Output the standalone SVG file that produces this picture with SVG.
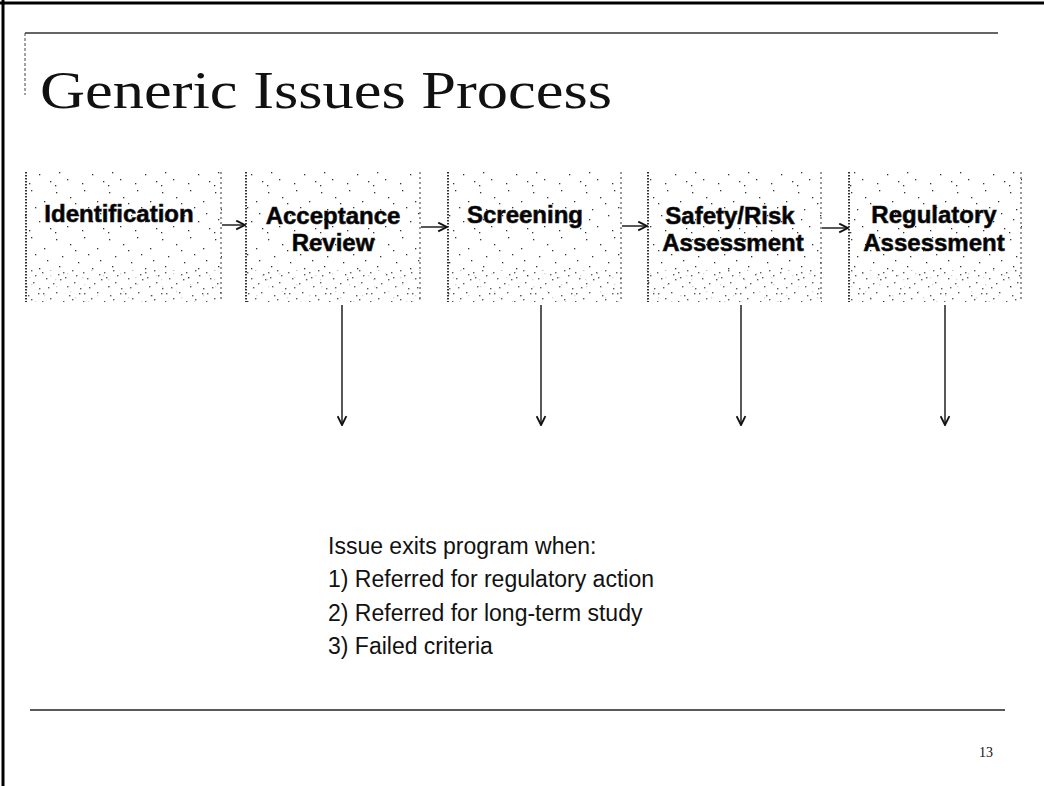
<svg xmlns="http://www.w3.org/2000/svg" width="1044" height="786" viewBox="0 0 1044 786">
<style>
.title{font-family:"Liberation Serif","Times New Roman",serif;font-size:52px;fill:#111}
.lbl{font-family:"Liberation Sans",Arial,sans-serif;font-weight:bold;font-size:24px;fill:#000;text-anchor:middle;stroke:#222;stroke-width:0.6}
.body{font-family:"Liberation Sans",Arial,sans-serif;font-size:23px;fill:#111}
.pg{font-family:"Liberation Serif","Times New Roman",serif;font-size:14px;fill:#111}
.edge{stroke:#333;stroke-width:2;stroke-dasharray:1.5 1.5}
.edgeR{stroke:#555;stroke-width:1.2;stroke-dasharray:2 3}
.conn{stroke:#111;stroke-width:1.4;fill:none}
.frame{stroke:#000;fill:none}
</style>
<defs>
<pattern id="stip" width="53" height="47" patternUnits="userSpaceOnUse">
<rect width="53" height="47" fill="#fff"/>
<g fill="#333">
<rect x="3" y="4" width="1.3" height="1.3"/><rect x="17" y="9" width="1.3" height="1.3"/><rect x="31" y="2" width="1.3" height="1.3"/>
<rect x="44" y="13" width="1.3" height="1.3"/><rect x="9" y="21" width="1.3" height="1.3"/><rect x="25" y="27" width="1.3" height="1.3"/>
<rect x="39" y="33" width="1.3" height="1.3"/><rect x="50" y="40" width="1.3" height="1.3"/><rect x="14" y="38" width="1.3" height="1.3"/>
<rect x="2" y="44" width="1.3" height="1.3"/><rect x="35" y="19" width="1.3" height="1.3"/><rect x="22" y="15" width="1.3" height="1.3"/>
<rect x="47" y="25" width="1.3" height="1.3"/><rect x="6" y="31" width="1.3" height="1.3"/><rect x="29" y="42" width="1.3" height="1.3"/>
</g>
</pattern>
<pattern id="stipD" width="41" height="29" patternUnits="userSpaceOnUse">
<rect width="41" height="29" fill="#fff"/>
<g fill="#333">
<rect x="2" y="3" width="1.4" height="1.4"/><rect x="9" y="8" width="1.4" height="1.4"/><rect x="15" y="2" width="1.4" height="1.4"/>
<rect x="22" y="11" width="1.4" height="1.4"/><rect x="28" y="5" width="1.4" height="1.4"/><rect x="35" y="14" width="1.4" height="1.4"/>
<rect x="5" y="17" width="1.4" height="1.4"/><rect x="12" y="22" width="1.4" height="1.4"/><rect x="19" y="18" width="1.4" height="1.4"/>
<rect x="26" y="25" width="1.4" height="1.4"/><rect x="33" y="21" width="1.4" height="1.4"/><rect x="39" y="27" width="1.4" height="1.4"/>
<rect x="7" y="26" width="1.4" height="1.4"/><rect x="31" y="9" width="1.4" height="1.4"/><rect x="17" y="13" width="1.4" height="1.4"/>
<rect x="38" y="3" width="1.4" height="1.4"/><rect x="24" y="16" width="1.4" height="1.4"/><rect x="1" y="11" width="1.4" height="1.4"/>
</g>
</pattern>
<marker id="ah" viewBox="0 0 10 10" refX="9" refY="5" markerWidth="11" markerHeight="11" markerUnits="userSpaceOnUse" orient="auto">
<path d="M1,1 L9,5 L1,9" fill="none" stroke="#111" stroke-width="1.7"/>
</marker>
</defs>

<g id="frame">
<line class="frame" x1="0" y1="3" x2="1044" y2="3" stroke-width="3"/>
<line class="frame" x1="3" y1="0" x2="3" y2="786" stroke-width="3"/>
<line x1="25" y1="33" x2="998" y2="33" stroke="#333" stroke-width="1.5"/>
<line x1="25" y1="33" x2="25" y2="95" stroke="#444" stroke-width="1" stroke-dasharray="3 2"/>
<line x1="30" y1="710" x2="1005" y2="710" stroke="#222" stroke-width="1.5"/>
</g>

<text id="title" class="title" x="40" y="108" textLength="572" lengthAdjust="spacingAndGlyphs">Generic Issues Process</text>

<g id="n1">
<rect x="25" y="172" width="197" height="130" fill="url(#stip)"/>
<rect x="25" y="270" width="197" height="32" fill="url(#stipD)" opacity="0.8"/>
<line class="edge" x1="26" y1="172" x2="26" y2="302"/><line class="edgeR" x1="221" y1="172" x2="221" y2="302"/>
<text class="lbl" x="119" y="222">Identification</text>
</g>
<g id="n2">
<rect x="245" y="172" width="176" height="130" fill="url(#stip)"/>
<rect x="245" y="270" width="176" height="32" fill="url(#stipD)" opacity="0.8"/>
<line class="edge" x1="246" y1="172" x2="246" y2="302"/><line class="edgeR" x1="420" y1="172" x2="420" y2="302"/>
<text class="lbl" x="333" y="224">Acceptance</text>
<text class="lbl" x="333" y="251">Review</text>
</g>
<g id="n3">
<rect x="447" y="172" width="175" height="130" fill="url(#stip)"/>
<rect x="447" y="270" width="175" height="32" fill="url(#stipD)" opacity="0.8"/>
<line class="edge" x1="448" y1="172" x2="448" y2="302"/><line class="edgeR" x1="621" y1="172" x2="621" y2="302"/>
<text class="lbl" x="525" y="223">Screening</text>
</g>
<g id="n4">
<rect x="647" y="172" width="175" height="130" fill="url(#stip)"/>
<rect x="647" y="270" width="175" height="32" fill="url(#stipD)" opacity="0.8"/>
<line class="edge" x1="648" y1="172" x2="648" y2="302"/><line class="edgeR" x1="821" y1="172" x2="821" y2="302"/>
<text class="lbl" x="730" y="224">Safety/Risk</text>
<text class="lbl" x="733" y="251">Assessment</text>
</g>
<g id="n5">
<rect x="848" y="172" width="174" height="130" fill="url(#stip)"/>
<rect x="848" y="270" width="174" height="32" fill="url(#stipD)" opacity="0.8"/>
<line class="edge" x1="849" y1="172" x2="849" y2="302"/><line class="edgeR" x1="1021" y1="172" x2="1021" y2="302"/>
<text class="lbl" x="934" y="223">Regulatory</text>
<text class="lbl" x="934" y="251">Assessment</text>
</g>

<g id="connectors">
<line class="conn" x1="222" y1="225" x2="245" y2="225" marker-end="url(#ah)"/>
<line class="conn" x1="421" y1="227" x2="447" y2="227" marker-end="url(#ah)"/>
<line class="conn" x1="622" y1="226" x2="647" y2="226" marker-end="url(#ah)"/>
<line class="conn" x1="822" y1="228" x2="848" y2="228" marker-end="url(#ah)"/>
<line class="conn" x1="342" y1="305" x2="342" y2="425" marker-end="url(#ah)"/>
<line class="conn" x1="541" y1="305" x2="541" y2="425" marker-end="url(#ah)"/>
<line class="conn" x1="741" y1="305" x2="741" y2="425" marker-end="url(#ah)"/>
<line class="conn" x1="945" y1="305" x2="945" y2="425" marker-end="url(#ah)"/>
</g>

<g id="exits">
<text class="body" x="328" y="554">Issue exits program when:</text>
<text class="body" x="328" y="587">1) Referred for regulatory action</text>
<text class="body" x="328" y="621">2) Referred for long-term study</text>
<text class="body" x="328" y="654">3) Failed criteria</text>
</g>

<text id="page" class="pg" x="979" y="757">13</text>
</svg>
